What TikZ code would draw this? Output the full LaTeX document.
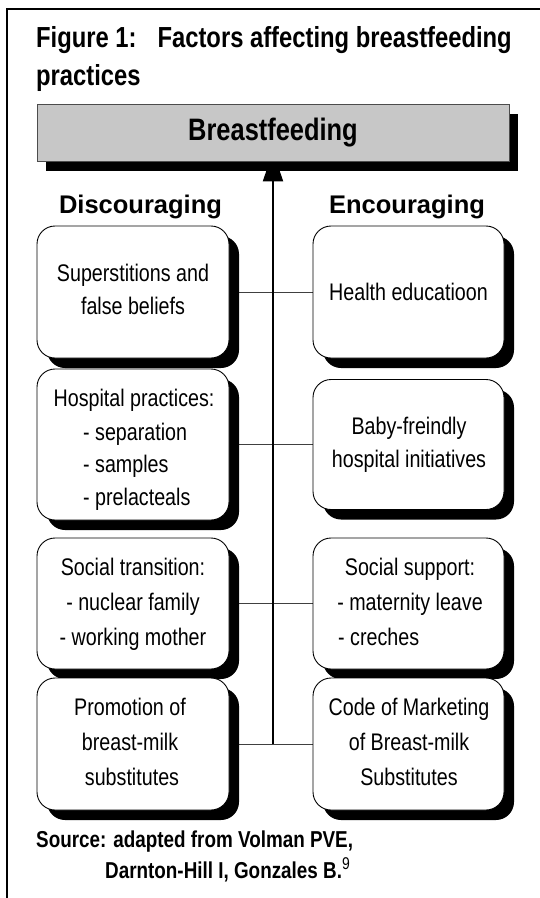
\documentclass[tikz,border=0pt]{standalone}
\usepackage{fontspec}
\setmainfont{Liberation Sans}
\newfontfamily\narrowfont{Liberation Sans}[FakeStretch=0.82]
\usetikzlibrary{arrows.meta,shadows}
\pgfdeclarelayer{paper}
\pgfdeclarelayer{bg}
\pgfsetlayers{paper,bg,main}
\begin{document}
\begin{tikzpicture}[x=1pt,y=-1pt,
  box/.style={draw=black,line width=0.9pt,fill=white,rounded corners=18pt,inner sep=0pt,
    drop shadow={shadow xshift=10pt,shadow yshift=-10pt,fill=black,opacity=1}},
  lbox/.style={box,minimum width=192pt},
  rbox/.style={box,minimum width=191pt},
  btext/.style={font=\narrowfont\fontsize{24}{28}\selectfont,anchor=base,inner sep=0pt},
  ltext/.style={btext,anchor=base west},
  head/.style={font=\bfseries\fontsize{25.5}{30}\selectfont,anchor=base,inner sep=0pt},
  titletext/.style={font=\narrowfont\bfseries\fontsize{29}{34}\selectfont,anchor=base west,inner sep=0pt},
  srctext/.style={font=\narrowfont\bfseries\fontsize{23}{28}\selectfont,anchor=base west,inner sep=0pt},
  link/.style={draw=black!75,line width=0.8pt}]
\useasboundingbox (0,0) rectangle (540,898);
\begin{pgfonlayer}{paper}
\fill[white] (0,0) rectangle (540,898);
\end{pgfonlayer}
% frame
\draw[line width=2pt] (6.5,898) -- (6.5,9) -- (540,9);
% title
\node[titletext] (title1) at (36,47) {Figure 1:\hspace{21pt}Factors affecting breastfeeding};
\node[titletext] (title2) at (36,85) {practices};
% breastfeeding box
\node[draw=black!70,line width=0.7pt,fill=black!22,inner sep=0pt,minimum width=472pt,minimum height=57pt,
  drop shadow={shadow xshift=8.5pt,shadow yshift=-10pt,fill=black,opacity=1}] (bf) at (273,132.5) {};
\node[font=\narrowfont\bfseries\fontsize{31}{36}\selectfont,anchor=base,inner sep=0pt] (bft) at (273,140) {Breastfeeding};
% headings
\node[head] (hd) at (140.5,213) {Discouraging};
\node[head] (he) at (407,213) {Encouraging};
% boxes
\node[lbox,minimum height=132pt] (b1l) at (133,292) {};
\node[rbox,minimum height=132pt] (b1r) at (408.5,292) {};
\node[lbox,minimum height=151pt] (b2l) at (133,444.5) {};
\node[rbox,minimum height=130pt] (b2r) at (408.5,444.5) {};
\node[lbox,minimum height=131pt] (b3l) at (133,603.5) {};
\node[rbox,minimum height=131pt] (b3r) at (408.5,603.5) {};
\node[lbox,minimum height=132pt] (b4l) at (133,744) {};
\node[rbox,minimum height=132pt] (b4r) at (408.5,744) {};
% connectors (behind)
\coordinate (vb) at (bf.south |- b4l.east);
\begin{pgfonlayer}{bg}
\draw[link] (b1l.east) -- (b1r.west);
\draw[link] (b2l.east) -- (b2r.west);
\draw[link] (b3l.east) -- (b3r.west);
\draw[link] (b4l.east) -- (b4r.west);
\draw[line width=2pt,-{Triangle[length=30pt,width=20pt]},shorten >=-10pt] (vb) -- (bf.south);
\end{pgfonlayer}
% box texts
\node[btext] (t1a) at (133,281) {Superstitions and};
\node[btext] (t1b) at (133,314) {false beliefs};
\node[btext] (t2) at (408.5,300) {Health educatioon};
\node[btext] (t3a) at (134,406) {Hospital practices:};
\node[ltext] (t3b) at (83,440) {- separation};
\node[ltext] (t3c) at (83,472) {- samples};
\node[ltext] (t3d) at (83,505) {- prelacteals};
\node[btext] (t4a) at (409,434) {Baby-freindly};
\node[btext] (t4b) at (409,467) {hospital initiatives};
\node[btext] (t5a) at (133,575) {Social transition:};
\node[btext] (t5b) at (133,610) {- nuclear family};
\node[btext] (t5c) at (133,645) {- working mother};
\node[btext] (t6a) at (410,575) {Social support:};
\node[btext] (t6b) at (410,610) {- maternity leave};
\node[ltext] (t6c) at (338,645) {- creches};
\node[btext] (t7a) at (130,715) {Promotion of};
\node[btext] (t7b) at (130,750) {breast-milk};
\node[btext] (t7c) at (132,785) {substitutes};
\node[btext] (t8a) at (409,715) {Code of Marketing};
\node[btext] (t8b) at (409,750) {of Breast-milk};
\node[btext] (t8c) at (409,785) {Substitutes};
% source
\node[srctext] (s1) at (36,847) {Source: adapted from Volman PVE,};
\node[srctext] (s2) at (105,878) {Darnton-Hill I, Gonzales B.\raisebox{9pt}{\narrowfont\mdseries\fontsize{17}{17}\selectfont 9}};
\end{tikzpicture}
\end{document}
